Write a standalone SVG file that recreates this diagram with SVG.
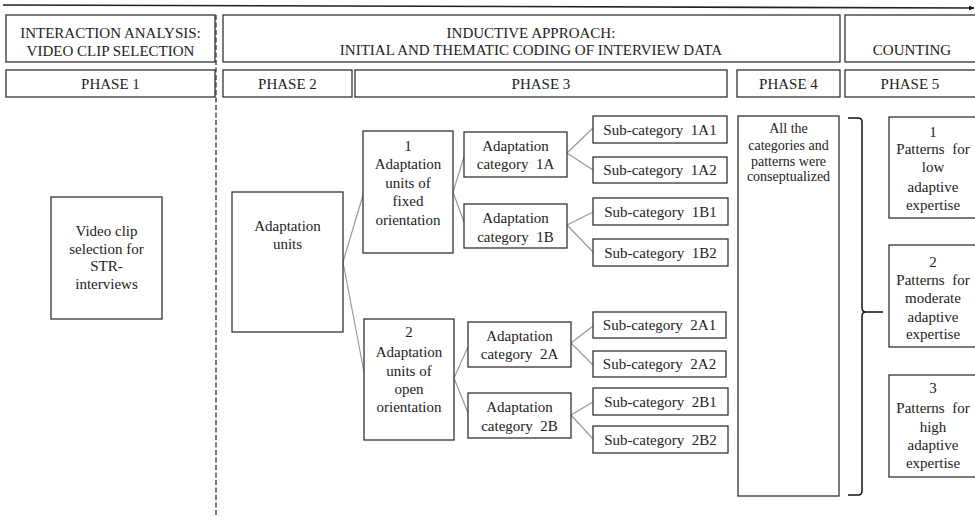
<svg xmlns="http://www.w3.org/2000/svg" width="975" height="517" viewBox="0 0 975 517">
<style>
.b{fill:#fff;stroke:#333;stroke-width:1.3}
text{font-family:'Liberation Serif','Times New Roman','DejaVu Serif',serif;font-size:15px;fill:#222;text-anchor:middle}
text.s{font-size:14px}
.c{stroke:#999;stroke-width:1.2;fill:none}
</style>
<defs>
<marker id="ah" viewBox="0 0 10 10" refX="9" refY="5" markerWidth="6" markerHeight="6" orient="auto" markerUnits="userSpaceOnUse">
<path d="M0,1 L10,5 L0,9 Z" fill="#111"/>
</marker>
</defs>
<rect width="975" height="517" fill="#fff"/>
<line x1="3" y1="5" x2="974" y2="8" stroke="#222" stroke-width="1.6" marker-end="url(#ah)"/>
<line x1="216" y1="15" x2="216" y2="517" stroke="#333" stroke-width="1.3" stroke-dasharray="5,2.5"/>

<g font-family="Liberation Serif, serif">
<g id="hdr1"><rect class="b" x="6" y="15" width="209" height="47"/>
<text x="110.5" y="38">INTERACTION ANALYSIS:</text><text x="110.5" y="56">VIDEO CLIP SELECTION</text></g>
<g id="hdr2"><rect class="b" x="223" y="15" width="617" height="47"/>
<text x="531" y="38">INDUCTIVE APPROACH:</text><text x="531" y="55">INITIAL AND THEMATIC CODING OF INTERVIEW DATA</text></g>
<g id="hdr3"><rect class="b" x="845" y="15" width="140" height="47"/>
<text x="912" y="55">COUNTING</text></g>

<g id="phase1"><rect class="b" x="6" y="70" width="209" height="27"/><text x="110.5" y="89">PHASE 1</text></g>
<g id="phase2"><rect class="b" x="223" y="70" width="129" height="27"/><text x="287.5" y="89">PHASE 2</text></g>
<g id="phase3"><rect class="b" x="355" y="70" width="372" height="27"/><text x="541" y="89">PHASE 3</text></g>
<g id="phase4"><rect class="b" x="737" y="70" width="103" height="27"/><text x="788.5" y="89">PHASE 4</text></g>
<g id="phase5"><rect class="b" x="845" y="70" width="140" height="27"/><text x="910" y="89">PHASE 5</text></g>

<g id="connectors">
<path class="c" d="M343,262 L363,195 M343,262 L364,372"/>
<path class="c" d="M453,192 L464,157 M453,192 L464,222"/>
<path class="c" d="M567,153 L593,128 M567,153 L593,170"/>
<path class="c" d="M567,225 L593,212 M567,225 L593,252"/>
<path class="c" d="M454,378 L468,347 M454,378 L468,413"/>
<path class="c" d="M571,343 L593,326 M571,343 L593,365"/>
<path class="c" d="M571,415 L593,402 M571,415 L593,439"/>
<path d="M848,118 L858,118 Q862,118 862,122 L862,308 Q862,312 866,312 L883,312 M866,312 Q862,312 862,316 L862,491 Q862,495 858,495 L848,495" fill="none" stroke="#111" stroke-width="1.5"/>
</g>

<g id="video"><rect class="b" x="51" y="197" width="111" height="122"/>
<text x="106.5" y="236">Video clip</text><text x="106.5" y="254">selection for</text><text x="106.5" y="271">STR-</text><text x="106.5" y="289">interviews</text></g>

<g id="units"><rect class="b" x="232" y="192" width="111" height="140"/>
<text x="287.5" y="231">Adaptation</text><text x="287.5" y="249">units</text></g>

<g id="u1"><rect class="b" x="363" y="131" width="90" height="122"/>
<text x="408" y="151">1</text><text x="408" y="169">Adaptation</text><text x="408" y="188">units of</text><text x="408" y="206">fixed</text><text x="408" y="225">orientation</text></g>

<g id="u2"><rect class="b" x="364" y="319" width="90" height="121"/>
<text x="409" y="337">2</text><text x="409" y="357">Adaptation</text><text x="409" y="376">units of</text><text x="409" y="394">open</text><text x="409" y="412">orientation</text></g>

<g id="c1A"><rect class="b" x="464" y="132" width="103" height="45"/>
<text x="515.5" y="151">Adaptation</text><text x="515.5" y="169">category&#160; 1A</text></g>
<g id="c1B"><rect class="b" x="464" y="204" width="103" height="44"/>
<text x="515.5" y="223">Adaptation</text><text x="515.5" y="242">category&#160; 1B</text></g>
<g id="c2A"><rect class="b" x="468" y="322" width="103" height="45"/>
<text x="519.5" y="341">Adaptation</text><text x="519.5" y="359">category&#160; 2A</text></g>
<g id="c2B"><rect class="b" x="468" y="393" width="103" height="45"/>
<text x="519.5" y="412">Adaptation</text><text x="519.5" y="431">category&#160; 2B</text></g>

<g id="s1A1"><rect class="b" x="593" y="116" width="134" height="27"/><text x="660" y="135">Sub-category&#160; 1A1</text></g>
<g id="s1A2"><rect class="b" x="593" y="157" width="134" height="26"/><text x="660" y="175">Sub-category&#160; 1A2</text></g>
<g id="s1B1"><rect class="b" x="593" y="198" width="135" height="27"/><text x="660.5" y="217">Sub-category&#160; 1B1</text></g>
<g id="s1B2"><rect class="b" x="593" y="239" width="135" height="27"/><text x="660.5" y="258">Sub-category&#160; 1B2</text></g>
<g id="s2A1"><rect class="b" x="593" y="312" width="133" height="26"/><text x="659.5" y="330">Sub-category&#160; 2A1</text></g>
<g id="s2A2"><rect class="b" x="593" y="351" width="133" height="26"/><text x="659.5" y="369">Sub-category&#160; 2A2</text></g>
<g id="s2B1"><rect class="b" x="593" y="388" width="135" height="27"/><text x="660.5" y="407">Sub-category&#160; 2B1</text></g>
<g id="s2B2"><rect class="b" x="593" y="426" width="135" height="27"/><text x="660.5" y="445">Sub-category&#160; 2B2</text></g>

<g id="concept"><rect class="b" x="738" y="116" width="101" height="380"/>
<text class="s" x="788.5" y="133">All the</text><text class="s" x="788.5" y="150">categories and</text><text class="s" x="788.5" y="166">patterns were</text><text class="s" x="788.5" y="181">conseptualized</text></g>

<g id="p1"><rect class="b" x="889" y="117" width="95" height="101"/>
<text x="933" y="137">1</text><text x="933" y="154">Patterns&#160; for</text><text x="933" y="172">low</text><text x="933" y="192">adaptive</text><text x="933" y="210">expertise</text></g>
<g id="p2"><rect class="b" x="889" y="245" width="95" height="102"/>
<text x="933" y="267">2</text><text x="933" y="285">Patterns&#160; for</text><text x="933" y="303">moderate</text><text x="933" y="322">adaptive</text><text x="933" y="339">expertise</text></g>
<g id="p3"><rect class="b" x="889" y="375" width="95" height="102"/>
<text x="933" y="393">3</text><text x="933" y="413">Patterns&#160; for</text><text x="933" y="432">high</text><text x="933" y="450">adaptive</text><text x="933" y="468">expertise</text></g>
</g>
</svg>
